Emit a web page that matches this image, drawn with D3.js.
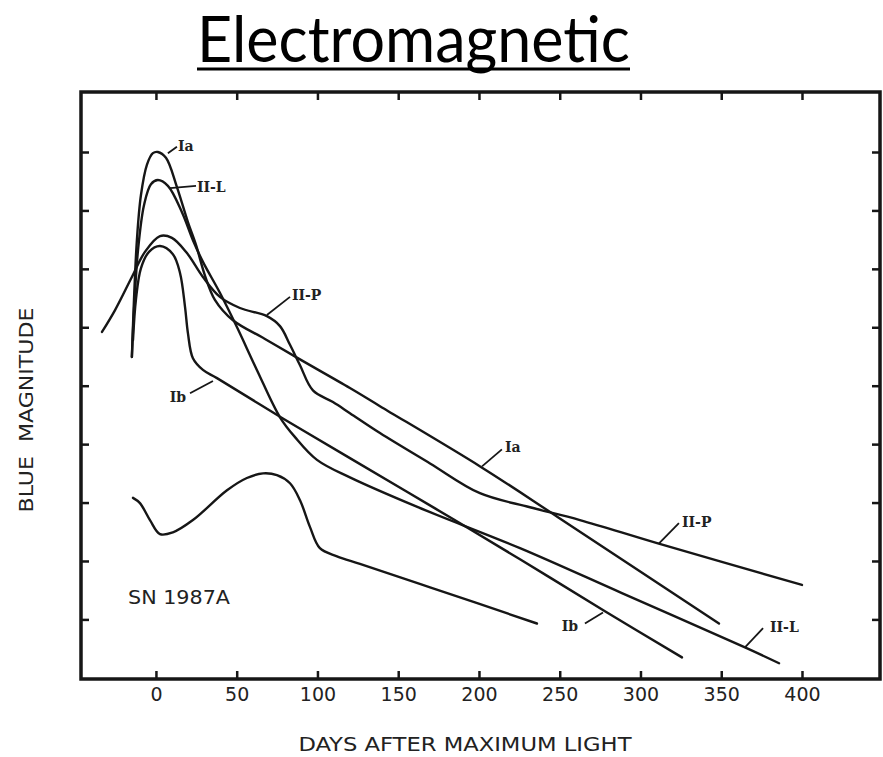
<!DOCTYPE html>
<html>
<head>
<meta charset="utf-8">
<script src="https://cdn.jsdelivr.net/npm/d3@7"></script>
<style>
  html, body { margin: 0; padding: 0; background: #fff; }
  svg { display: block; }
</style>
</head>
<body>
<svg id="chart" width="883" height="757"></svg>
<script>
// ---- Data (days after maximum, blue magnitude in tick units, 0 = top of frame) ----
const xTicks = [0, 50, 100, 150, 200, 250, 300, 350, 400];
const yTicks = [1, 2, 3, 4, 5, 6, 7, 8, 9];

const typeIa = [[-14.9,4.51],[-13.6,3.53],[-11.8,2.51],[-9.3,1.74],[-5.6,1.22],[-1.9,1.02],[1.2,1.00],
  [6.2,1.10],[13.0,1.60],[19.8,2.20],[24.8,2.59],[30.3,3.11],[36.5,3.53],[47.7,3.88],[67.5,4.20],
  [87.3,4.52],[120.1,5.04],[138.7,5.35],[201.2,6.39],[248.9,7.25],[348.6,9.07]];

const typeIIL = [[-14.9,4.51],[-13.6,3.71],[-11.1,2.68],[-7.4,1.91],[-3.1,1.55],[1.2,1.48],[7.4,1.58],
  [16.1,2.03],[22.9,2.51],[29.1,2.88],[39.6,3.41],[50.2,4.00],[62.5,4.73],[76.8,5.54],[86.1,5.88],
  [99.7,6.27],[120.1,6.57],[162.2,7.08],[225.4,7.78],[288.5,8.55],[364.7,9.48],[385.8,9.75]];

const typeIb = [[-14.2,4.22],[-12.4,3.53],[-9.3,2.99],[-4.3,2.71],[2.5,2.61],[10.5,2.75],[14.9,3.07],
  [18.0,3.65],[19.8,4.10],[22.9,4.53],[29.1,4.73],[37.8,4.87],[78.6,5.56],[120.1,6.24],[172.8,7.10],
  [225.4,7.97],[278.0,8.86],[325.7,9.65]];

const typeIIP = [[-33.4,4.08],[-25.4,3.71],[-14.9,3.14],[-6.8,2.71],[2.5,2.44],[9.9,2.47],[19.2,2.73],
  [29.1,3.14],[39.6,3.48],[52.0,3.67],[68.7,3.81],[76.8,3.98],[83.0,4.30],[89.2,4.65],[97.2,5.08],
  [109.6,5.28],[120.1,5.47],[138.7,5.81],[169.7,6.33],[200.6,6.84],[231.6,7.08],[262.5,7.30],
  [310.8,7.70],[400.0,8.41]];

const sn1987A = [[-14.2,6.92],[-9.9,7.01],[-3.7,7.30],[2.5,7.54],[10.5,7.51],[22.9,7.30],[44.0,6.79],
  [56.3,6.58],[66.3,6.50],[74.9,6.53],[83.0,6.67],[89.2,6.96],[95.4,7.42],[101.5,7.78],[112.1,7.92],
  [126.3,8.05],[169.7,8.45],[235.9,9.07]];

// Curve labels: text, leader start (on curve), leader end, text anchor point, anchor side
const labelText   = ["Ia", "II-L", "II-P", "Ib", "Ia", "II-P", "Ib", "II-L"];
const leaderFrom  = [[7.4,1.02],[8.7,1.62],[68.7,3.79],[35.3,4.92],[201.9,6.38],[311.5,7.70],[276.8,8.88],[364.7,9.48]];
const leaderTo    = [[13.0,0.91],[24.8,1.58],[83.0,3.48],[21.1,5.13],[214.2,6.09],[323.8,7.35],[265.6,9.07],[375.9,9.15]];
const labelAt     = [[13.6,0.90],[25.4,1.60],[84.2,3.45],[18.6,5.20],[216.1,6.05],[325.7,7.34],[261.3,9.12],[380.2,9.13]];
const labelAnchor = ["start","start","start","end","start","start","end","start"];

const objectName = "SN 1987A";
const objectAt = [-17.3, 8.62];

const titleText = "Electromagnetic";
const xLabel = "DAYS AFTER MAXIMUM LIGHT";
const yLabel = "BLUE  MAGNITUDE";

// ---- Layout ----
const svg = d3.select("#chart");
const L = 81, R = 880, T = 92, B = 679;
const x = d3.scaleLinear().domain([-46.4, 448.3]).range([L, R]);
const y = d3.scaleLinear().domain([-0.027, 10.02]).range([T, B]);
const ink = "#161616";

// Title
svg.append("text")
  .attr("x", 413.5).attr("y", 62)
  .attr("text-anchor", "middle")
  .attr("font-family", "Lato, 'Open Sans', sans-serif")
  .attr("font-size", 63)
  .attr("textLength", 433).attr("lengthAdjust", "spacingAndGlyphs")
  .attr("fill", "#000")
  .text(titleText);
svg.append("line")
  .attr("x1", 197).attr("x2", 630).attr("y1", 69).attr("y2", 69)
  .attr("stroke", "#000").attr("stroke-width", 3);

// Axes (ticks pointing inward)
const tickLen = 8;
const gB = svg.append("g").attr("transform", `translate(0,${B})`)
  .call(d3.axisBottom(x).tickValues(xTicks).tickSizeInner(-tickLen).tickSizeOuter(0).tickPadding(9));
const gT = svg.append("g").attr("transform", `translate(0,${T})`)
  .call(d3.axisTop(x).tickValues(xTicks).tickSizeInner(-tickLen).tickSizeOuter(0).tickFormat(""));
const gL = svg.append("g").attr("transform", `translate(${L},0)`)
  .call(d3.axisLeft(y).tickValues(yTicks).tickSizeInner(-tickLen).tickSizeOuter(0).tickFormat(""));
const gR = svg.append("g").attr("transform", `translate(${R},0)`)
  .call(d3.axisRight(y).tickValues(yTicks).tickSizeInner(-tickLen).tickSizeOuter(0).tickFormat(""));
[gB, gT, gL, gR].forEach(g => {
  g.select(".domain").remove();
  g.selectAll(".tick line").attr("stroke", ink).attr("stroke-width", 2.5);
});
gB.selectAll(".tick text")
  .attr("font-family", "'DejaVu Sans', sans-serif")
  .attr("font-size", 19)
  .attr("fill", "#222");

// Frame
svg.append("rect")
  .attr("x", L).attr("y", T).attr("width", R - L).attr("height", B - T)
  .attr("fill", "none").attr("stroke", ink).attr("stroke-width", 3.5);

// Axis titles
svg.append("text")
  .attr("x", 465).attr("y", 751)
  .attr("text-anchor", "middle")
  .attr("font-family", "'DejaVu Sans Condensed', 'DejaVu Sans', sans-serif")
  .attr("font-size", 19)
  .attr("textLength", 333).attr("lengthAdjust", "spacingAndGlyphs")
  .attr("fill", "#222")
  .text(xLabel);
svg.append("text")
  .attr("transform", "translate(33,410) rotate(-90)")
  .attr("text-anchor", "middle")
  .attr("font-family", "'DejaVu Sans Condensed', 'DejaVu Sans', sans-serif")
  .attr("font-size", 19)
  .attr("textLength", 205).attr("lengthAdjust", "spacingAndGlyphs")
  .attr("xml:space", "preserve")
  .attr("fill", "#222")
  .text(yLabel);

// Curves
const line = d3.line().x(d => x(d[0])).y(d => y(d[1])).curve(d3.curveCatmullRom.alpha(0.5));
const series = [typeIa, typeIIL, typeIb, typeIIP, sn1987A];
svg.append("g").selectAll("path").data(series).join("path")
  .attr("d", line)
  .attr("fill", "none")
  .attr("stroke", ink)
  .attr("stroke-width", 2.4)
  .attr("stroke-linejoin", "round")
  .attr("stroke-linecap", "round");

// Leaders and labels
const lg = svg.append("g");
labelText.forEach((t, i) => {
  lg.append("line")
    .attr("x1", x(leaderFrom[i][0])).attr("y1", y(leaderFrom[i][1]))
    .attr("x2", x(leaderTo[i][0])).attr("y2", y(leaderTo[i][1]))
    .attr("stroke", ink).attr("stroke-width", 1.8);
  lg.append("text")
    .attr("x", x(labelAt[i][0])).attr("y", y(labelAt[i][1]))
    .attr("dy", "0.36em")
    .attr("text-anchor", labelAnchor[i])
    .attr("font-family", "'DejaVu Serif', serif")
    .attr("font-weight", "bold")
    .attr("font-size", 14)
    .attr("fill", "#222")
    .text(t);
});

svg.append("text")
  .attr("x", x(objectAt[0])).attr("y", y(objectAt[1]))
  .attr("dy", "0.36em")
  .attr("font-family", "'DejaVu Sans', sans-serif")
  .attr("font-size", 19)
  .attr("textLength", 102).attr("lengthAdjust", "spacingAndGlyphs")
  .attr("fill", "#222")
  .text(objectName);
</script>
</body>
</html>
